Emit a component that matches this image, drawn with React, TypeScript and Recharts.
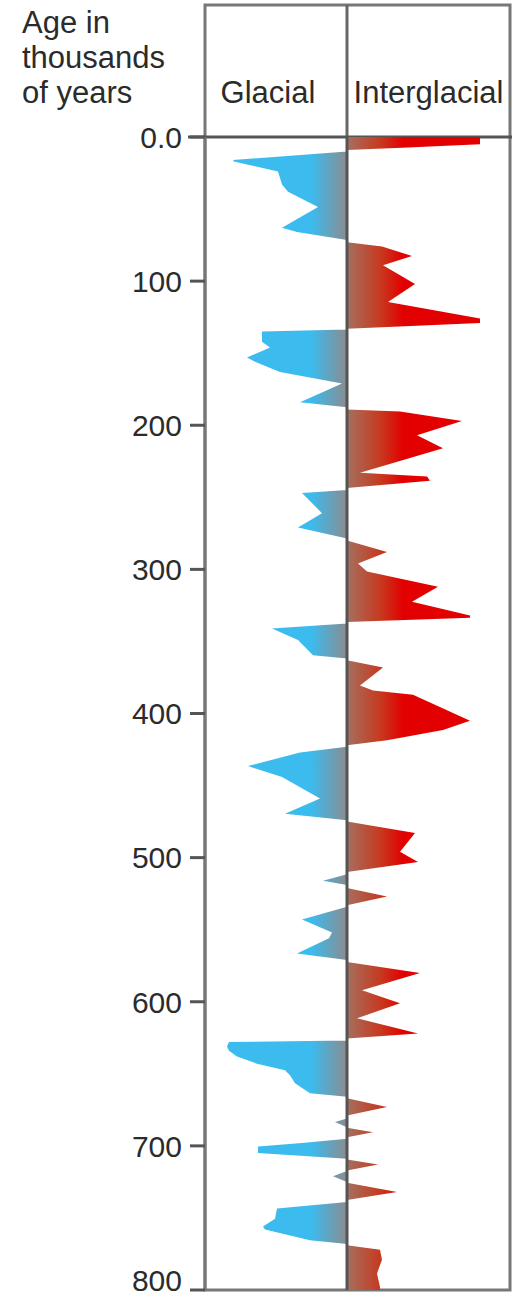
import React from "react";
import { AreaChart, Area, XAxis, YAxis, ReferenceLine } from "recharts";

// Age (thousands of years) and signed climate signal: negative = glacial, positive = interglacial
const AGES = [
  0, 5, 7.5, 9,
  10, 16, 17, 24, 33, 38, 48.5, 63, 66, 71.5,
  73, 76, 82.5, 89, 102, 114.5, 126, 129, 133,
  133.5, 135, 142, 146, 153, 156, 163, 171, 184, 187.5,
  189, 190.5, 197, 207, 216, 233, 235.5, 238.5, 243.5,
  245, 247, 261, 271, 278.5,
  280, 288, 296, 301.5, 312, 322.5, 332, 333.5, 336.5,
  337.5, 341, 349, 359.5, 361.8,
  363, 368, 380.5, 384, 387, 405, 411.5, 418.5, 422,
  423, 427, 436.5, 444, 459, 469.5, 474,
  475, 483, 496, 503, 510,
  511.5, 516, 519,
  521, 527, 533,
  534, 543, 552, 556, 566.5, 571,
  572.5, 580, 592, 601, 611.5, 622, 625.5,
  626.8, 628, 631, 634, 638, 643, 647.5, 651, 656.5, 663.5, 666,
  667, 673, 679,
  681, 683.5, 687,
  687.5, 690.5, 694,
  695, 698, 700.5, 705, 709,
  709.5, 713, 717,
  717.5, 721, 725,
  725.5, 732, 737.5,
  739, 743.5, 750.5, 756, 758, 765.5, 768,
  769, 772, 779, 788.5, 798, 800,
];

const SIGNAL = [
  133, 133, 55, 0,
  0, -114, -113, -69, -65, -59, -29, -65, -50, 0,
  0, 35, 65, 36, 68, 41, 133, 133, 0,
  0, -85, -85, -77, -100, -92, -67, -5, -47, 0,
  0, 53, 115, 70, 96, 13, 80, 83, 0,
  0, -45, -25, -49, 0,
  0, 40, 11, 20, 91, 65, 123, 123, 0,
  0, -75, -49, -34, 0,
  0, 36, 13, 26, 66, 123, 96, 40, 0,
  0, -47, -99, -65, -27, -62, 0,
  0, 68, 53, 71, 0,
  0, -24, 0,
  0, 40, 0,
  0, -45, -15, -18, -50, 0,
  0, 73, 15, 53, 10, 71, 0,
  0, -118, -120, -118, -110, -90, -62, -57, -52, -37, 0,
  0, 40, 0,
  0, -12, 0,
  0, 26, 0,
  0, -45, -89, -89, 0,
  0, 31, 0,
  0, -14, 0,
  0, 50, 0,
  0, -70, -72, -84, -82, -37, 0,
  0, 33, 35, 30, 33, 33,
];

const AGE_TICKS = [0, 100, 200, 300, 400, 500, 600, 700, 800];
const HEADER_LINES = ["Age in", "thousands", "of years"];

const FONT = '"Liberation Sans", Arial, Helvetica, sans-serif';
const W = 516;
const H = 1298;
const PLOT_LEFT = 205;
const PLOT_RIGHT = 510;
const PLOT_TOP = 137;
const PLOT_BOTTOM = 1290;
const BOX_TOP = 5;
const X_MIN = -142;
const X_MAX = 163;
const CENTER_X = PLOT_LEFT + ((0 - X_MIN) / (X_MAX - X_MIN)) * (PLOT_RIGHT - PLOT_LEFT);
const TICK_FONT = 30;

const rows = AGES.map((age, i) => ({
  age,
  glacial: Math.min(SIGNAL[i], 0),
  interglacial: Math.max(SIGNAL[i], 0),
}));

// tick label, kept inside the picture at the bottom edge
const AgeTick = (props: any) => {
  const { x, y, payload } = props;
  const baseline = Math.min(y + TICK_FONT * 0.36, H - TICK_FONT * 0.24);
  return (
    <text
      x={x}
      y={baseline}
      textAnchor="end"
      fontSize={TICK_FONT}
      fill="#2b2b2b"
      fontFamily={FONT}
    >
      {payload.value === 0 ? "0.0" : String(payload.value)}
    </text>
  );
};

export default function App() {
  return (
    <div style={{ position: "absolute", left: 0, top: 0, background: "#fff" }}>
      <AreaChart
        layout="vertical"
        width={W}
        height={H}
        data={rows}
        margin={{ top: PLOT_TOP, right: W - PLOT_RIGHT, bottom: H - PLOT_BOTTOM, left: 0 }}
        style={{ fontFamily: FONT }}
      >
        <defs>
          <linearGradient id="glacialFill" x1="0" y1="0" x2="1" y2="0">
            <stop offset="0" stopColor="#3bbbee" />
            <stop offset="0.7" stopColor="#3bbbee" />
            <stop offset="1" stopColor="#8a8c90" />
          </linearGradient>
          <linearGradient id="interglacialFill" x1="0" y1="0" x2="1" y2="0">
            <stop offset="0" stopColor="#a5705f" />
            <stop offset="0.25" stopColor="#c63a20" />
            <stop offset="0.42" stopColor="#e20000" />
            <stop offset="1" stopColor="#e20000" />
          </linearGradient>
        </defs>
        <XAxis type="number" domain={[X_MIN, X_MAX]} allowDataOverflow hide />
        <YAxis
          type="number"
          dataKey="age"
          domain={[0, 800]}
          ticks={AGE_TICKS}
          allowDataOverflow
          interval={0}
          width={PLOT_LEFT}
          tickSize={15}
          tickMargin={8}
          tick={<AgeTick />}
          tickLine={{ stroke: "#555", strokeWidth: 3 }}
          axisLine={{ stroke: "#777", strokeWidth: 3 }}
        />
        <Area
          dataKey="glacial"
          type="linear"
          fill="url(#glacialFill)"
          fillOpacity={1}
          stroke="none"
          isAnimationActive={false}
        />
        <Area
          dataKey="interglacial"
          type="linear"
          fill="url(#interglacialFill)"
          fillOpacity={1}
          stroke="none"
          isAnimationActive={false}
        />
        <ReferenceLine x={0} stroke="#555" strokeWidth={3} />
        <rect
          x={PLOT_LEFT}
          y={BOX_TOP}
          width={PLOT_RIGHT - PLOT_LEFT}
          height={PLOT_BOTTOM - BOX_TOP}
          fill="none"
          stroke="#777"
          strokeWidth={3}
        />
        <line x1={CENTER_X} y1={BOX_TOP} x2={CENTER_X} y2={PLOT_TOP} stroke="#666" strokeWidth={3} />
        <line x1={188} y1={PLOT_TOP} x2={PLOT_RIGHT + 2} y2={PLOT_TOP} stroke="#555" strokeWidth={3} />
        <text x={(PLOT_LEFT + CENTER_X) / 2 - 8} y={103} textAnchor="middle" fontSize={31} fill="#2b2b2b" fontFamily={FONT}>
          Glacial
        </text>
        <text x={(CENTER_X + PLOT_RIGHT) / 2} y={103} textAnchor="middle" fontSize={31} fill="#2b2b2b" fontFamily={FONT}>
          Interglacial
        </text>
        {HEADER_LINES.map((line, i) => (
          <text key={line} x={22} y={33 + i * 35} fontSize={31} fill="#2b2b2b" fontFamily={FONT}>
            {line}
          </text>
        ))}
      </AreaChart>
    </div>
  );
}
